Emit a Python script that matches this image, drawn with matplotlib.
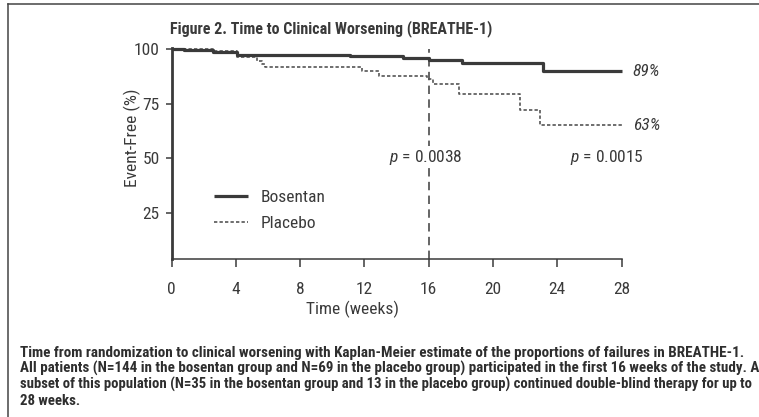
import matplotlib
matplotlib.use("Agg")
import matplotlib.pyplot as plt
from matplotlib import font_manager
from matplotlib.lines import Line2D

# ---------------- data ----------------
bosentan_t = [0, 0.8, 2.6, 4.1, 11.1, 14.4, 16.0, 18.1, 23.1, 28.0]
bosentan_v = [100, 99.6, 98.6, 97.6, 97.0, 96.0, 95.2, 93.5, 90.0, 90.0]

placebo_t = [0, 2.6, 4.1, 5.3, 5.6, 5.8, 11.85, 12.9, 15.9, 16.3, 17.9, 21.7, 22.9, 28.1]
placebo_v = [100, 99.2, 96.4, 94.5, 93.3, 91.7, 90.1, 87.8, 86.3, 84.0, 79.7, 72.1, 65.3, 65.3]

x_ticks = [0, 4, 8, 12, 16, 20, 24, 28]
y_ticks = [25, 50, 75, 100]
cut_week = 16
end_labels = ["89%", "63%"]
p_values = ["0.0038", "0.0015"]
series_names = ["Bosentan", "Placebo"]

title = "Figure 2. Time to Clinical Worsening (BREATHE-1)"
caption_lines = [
    "Time from randomization to clinical worsening with Kaplan-Meier estimate of the proportions of failures in BREATHE-1.",
    "All patients (N=144 in the bosentan group and N=69 in the placebo group) participated in the first 16 weeks of the study. A",
    "subset of this population (N=35 in the bosentan group and 13 in the placebo group) continued double-blind therapy for up to",
    "28 weeks.",
]

# ---------------- fonts ----------------
def has_font(name):
    try:
        font_manager.findfont(font_manager.FontProperties(family=name), fallback_to_default=False)
        return True
    except Exception:
        return False

fam = None
for cand in ["Liberation Sans Narrow", "Roboto Condensed", "Open Sans Condensed", "DejaVu Sans Condensed", "Liberation Sans"]:
    if has_font(cand):
        fam = cand
        break
if fam is None:
    fam = "DejaVu Sans"
plt.rcParams["font.family"] = [fam, "DejaVu Sans"]
plt.rcParams["mathtext.fontset"] = "custom"
plt.rcParams["mathtext.it"] = fam + ":italic"
plt.rcParams["mathtext.rm"] = fam

INK = "#3a3a3a"
W, H = 759, 417
fig = plt.figure(figsize=(W / 100, H / 100), dpi=100)

def fx(px):
    return px / W

def fy(py):
    return 1 - py / H

ax_l, ax_r, ax_b, ax_t = 171.5, 621.5, 259.3, 48.2
ax = fig.add_axes([fx(ax_l), fy(ax_b), fx(ax_r - ax_l), fy(ax_t) - fy(ax_b)])
ax.set_xlim(0, 28)
ax.set_ylim(3.6, 100.5)

ax.step(bosentan_t, bosentan_v, where="post", color=INK, lw=2.3,
        solid_capstyle="butt", clip_on=False, label=series_names[0], zorder=3)
ax.step(placebo_t, placebo_v, where="post", color="#555555", lw=1.2,
        linestyle=(0, (2.0, 1.3)), clip_on=False, label=series_names[1], zorder=2)

ax.vlines(cut_week, 3.6, 100, colors=INK, lw=1.1, linestyles=[(0, (5.5, 3.5))], zorder=1)

for s in ["top", "right"]:
    ax.spines[s].set_visible(False)
ax.spines["left"].set_linewidth(2.0)
ax.spines["bottom"].set_linewidth(1.1)
ax.spines["left"].set_color(INK)
ax.spines["bottom"].set_color(INK)

FS = 12.5
ax.set_xticks(x_ticks)
ax.set_xticklabels([str(v) for v in x_ticks])
ax.set_yticks(y_ticks)
ax.set_yticklabels([str(v) for v in y_ticks])
ax.tick_params(axis="x", length=6, width=1.1, color=INK, pad=10, labelsize=FS, labelcolor=INK)
ax.tick_params(axis="y", length=4.5, width=1.1, color=INK, pad=4, labelsize=FS, labelcolor=INK)

fig.text(fx(353), fy(314.5), "Time (weeks)", ha="center", va="baseline", fontsize=FS, color=INK)
fig.text(fx(132), fy(137.5), "Event-Free (%)", ha="center", va="center",
         rotation=90, fontsize=FS, color=INK)

# end labels
ax.annotate(end_labels[0], xy=(bosentan_t[-1], bosentan_v[-1]), xytext=(7.5, 0),
            textcoords="offset points", ha="left", va="center", fontsize=FS,
            style="italic", color=INK, annotation_clip=False)
ax.annotate(end_labels[1], xy=(placebo_t[-1], placebo_v[-1]), xytext=(7.5, -0.5),
            textcoords="offset points", ha="left", va="center", fontsize=FS,
            style="italic", color=INK, annotation_clip=False)

# p-values
ax.text(15.8, 50.5, r"$\it{p}$" + " = " + p_values[0], ha="center", va="center",
        fontsize=FS, color=INK, zorder=4,
        bbox=dict(facecolor="white", edgecolor="none", pad=1.0))
ax.text(27.1, 50.5, r"$\it{p}$" + " = " + p_values[1], ha="center", va="center",
        fontsize=FS, color=INK, clip_on=False)

leg = ax.legend(loc="upper left", bbox_to_anchor=(fx(214), fy(190)),
                bbox_transform=fig.transFigure, frameon=False, fontsize=FS,
                handlelength=1.95, handletextpad=0.75, labelspacing=0.6,
                borderaxespad=0, borderpad=0)
for t in leg.get_texts():
    t.set_color(INK)

# title
title_t = fig.text(fx(170), fy(33.5), title, ha="left", va="baseline", fontsize=12,
                   fontweight="bold", color=INK)

# caption
cap_baselines = [356.7, 372.3, 388.5, 405.0]
cap_right = [745, 756, 752, None]
cap_texts = []
for line, by in zip(caption_lines, cap_baselines):
    cap_texts.append(fig.text(fx(20.5), fy(by), line, ha="left", va="baseline",
                              fontsize=9, fontweight="bold", color="#2e2e2e"))

fig.canvas.draw()
r = fig.canvas.get_renderer()

def fit(t, target_w):
    w = t.get_window_extent(r).width
    t.set_fontsize(t.get_fontsize() * target_w / w)

fit(title_t, 493 - 170)
sizes = []
for t, rr in zip(cap_texts, cap_right):
    if rr is not None:
        fit(t, rr - 20.5)
        sizes.append(t.get_fontsize())
cap_texts[-1].set_fontsize(sum(sizes) / len(sizes))

# frame lines
fig.add_artist(Line2D([fx(8.3), 1.0], [fy(4), fy(4)], transform=fig.transFigure,
                      color="#444444", lw=1.1))
fig.add_artist(Line2D([fx(8.3), fx(8.3)], [fy(4), 0], transform=fig.transFigure,
                      color="#444444", lw=1.1))

fig.savefig("out.png", dpi=100)
